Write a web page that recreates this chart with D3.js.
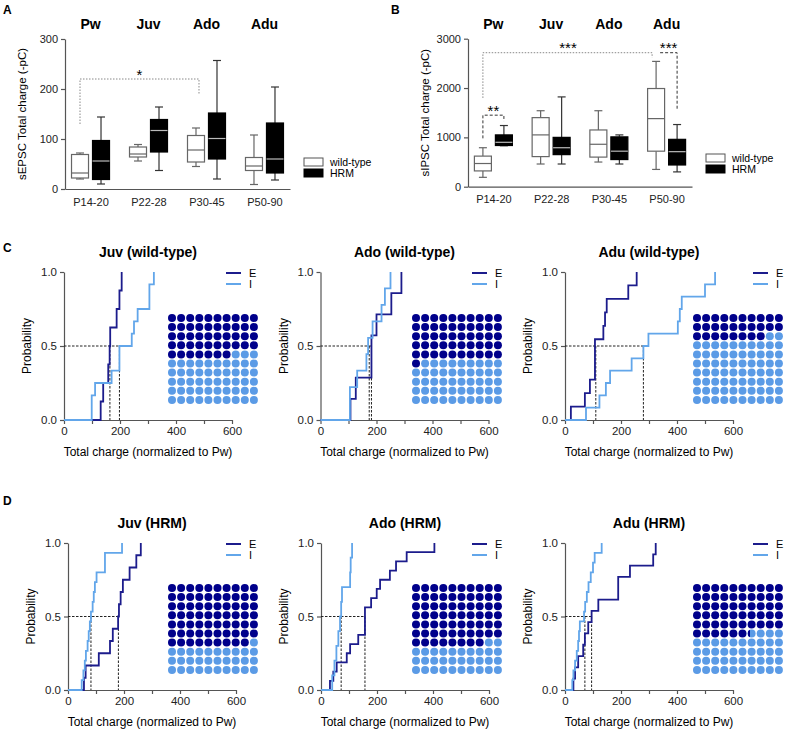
<!DOCTYPE html>
<html><head><meta charset="utf-8">
<script src="https://cdn.jsdelivr.net/npm/d3@7"></script>
<style>body{margin:0;background:#fff} svg{display:block;font-family:"Liberation Sans",Arial,sans-serif}</style>
</head><body><svg id="c" width="787" height="730"></svg>
<script>
// ---------- DATA ----------
const groups = ["P14-20","P22-28","P30-45","P50-90"];
const stages = ["Pw","Juv","Ado","Adu"];
// five-number summaries [min, q1, median, q3, max]
const epscWT  = [[20,22,32,69,72],[56,64,70,84,89],[45,54,78,107,122],[9,37,46,63,108]];
const epscHRM = [[10,19,56,97,144],[37,74,117,139,164],[20,60,101,152,257],[18,32,60,132,204]];
const ipscWT  = [[190,320,470,620,790],[460,610,1050,1400,1540],[500,600,860,1150,1540],[350,720,1380,1990,2540]];
const ipscHRM = [[830,835,900,1050,1240],[460,650,790,1000,1820],[460,550,720,1010,1050],[300,440,710,960,1260]];
const epscTicks = [0,100,200,300];
const ipscTicks = [0,1000,2000,3000];
const legendLabels = ["wild-type","HRM"];

// cumulative distributions (sorted values, normalized to Pw)
const juvWT_E = [131,140,158,163,165,188,198,206];
const juvWT_I = [99,99,111,170,198,198,242,250,263,305,305,321];
const adoWT_E = [107,126,182,182,200,253,289];
const adoWT_I = [105,105,131,164,170,186,218,230,250];
const aduWT_E = [21,71,89,107,107,107,137,143,149,226,256];
const aduWT_I = [75,123,146,161,238,280,298,403,410,417,500,536];
const juvHRM_E = [57,63,110,150,160,179,182,188,196,220,244,260];
const juvHRM_I = [49,55,60,64,70,74,78,82,88,92,96,102,132,132,193];
const adoHRM_E = [32,44,56,92,104,133,157,157,157,179,199,211,246,268,306,405];
const adoHRM_I = [40,48,55,62,68,72,75,104,106,111];
const aduHRM_E = [30,36,47,65,71,83,95,119,190,190,232,315,324];
const aduHRM_I = [26,30,36,42,47,50,53,68,72,78,84,92,100,106,131];
// medians (E, I)
const medWT  = [[164,198],[182,174],[110,280]];
const medHRM = [[180,82],[157,72],[95,71]];
// waffle: percentage of E (dark dots)
const waffleWT  = [47,51,28];
const waffleHRM = [69,68,56.3];
const cdfTitlesWT  = ["Juv (wild-type)","Ado (wild-type)","Adu (wild-type)"];
const cdfTitlesHRM = ["Juv (HRM)","Ado (HRM)","Adu (HRM)"];
const xTicksCdf = [0,100,200,300,400,500,600];
const yTicksCdf = [0,0.5,1];

// ---------- DRAW ----------
const svg = d3.select("#c");
const AX = "#555";
const colE = "#1c1c8c", colI = "#62a6ea", dotE = "#00008b", dotI = "#5b9be6";

function styleAxis(g){
  g.selectAll(".domain").attr("stroke",AX).attr("stroke-width",1.2);
  g.selectAll(".tick line").attr("stroke",AX).attr("stroke-width",1.2);
  g.selectAll(".tick text").attr("fill","#222").style("font-family","Liberation Sans, Arial").style("font-size","11px");
}

function letter(t,x,y){
  svg.append("text").attr("x",x).attr("y",y).text(t).attr("font-weight","bold").attr("font-size",12);
}

function boxPanel(o){
  const g = svg.append("g");
  const y = d3.scaleLinear().domain([0,o.max]).range([o.yBot,o.yTop]);
  const x = d3.scalePoint().domain(groups).range([o.x0,o.x1]).padding(0.44);
  const ya = g.append("g").attr("transform",`translate(${o.x0},0)`)
    .call(d3.axisLeft(y).tickValues(o.ticks).tickFormat(d3.format("d")).tickSize(4).tickSizeOuter(0).tickPadding(3));
  styleAxis(ya);
  const xa = g.append("g").attr("transform",`translate(0,${o.yBot})`)
    .call(d3.axisBottom(x).tickSize(0).tickSizeOuter(0).tickPadding(9));
  styleAxis(xa);
  g.append("text").attr("transform",`translate(${o.ylabX},${(o.yTop+o.yBot)/2}) rotate(-90)`)
    .attr("text-anchor","middle").attr("dominant-baseline","middle").attr("font-size",11.5).text(o.ylabel);
  stages.forEach((s,i)=>{
    g.append("text").attr("x",x(groups[i])).attr("y",29).attr("text-anchor","middle")
      .attr("font-weight","bold").attr("font-size",14).text(s);
  });
  const bw=17, off=10.5, cap=4;
  [[o.wt,-off,"#fff","#666","#666"],[o.hrm,off,"#000","#000","#bbb"]].forEach(([data,dx,fill,stroke,med])=>{
    data.forEach((d,i)=>{
      const cx = x(groups[i])+dx;
      const wc = stroke==="#000" ? "#333" : "#666";
      g.append("line").attr("x1",cx).attr("x2",cx).attr("y1",y(d[0])).attr("y2",y(d[1])).attr("stroke",wc).attr("stroke-width",1.2);
      g.append("line").attr("x1",cx).attr("x2",cx).attr("y1",y(d[3])).attr("y2",y(d[4])).attr("stroke",wc).attr("stroke-width",1.2);
      [d[0],d[4]].forEach(v=>g.append("line").attr("x1",cx-cap).attr("x2",cx+cap).attr("y1",y(v)).attr("y2",y(v)).attr("stroke",wc).attr("stroke-width",1.2));
      g.append("rect").attr("x",cx-bw/2).attr("y",y(d[3])).attr("width",bw).attr("height",y(d[1])-y(d[3]))
        .attr("fill",fill).attr("stroke",stroke).attr("stroke-width",1.2);
      g.append("line").attr("x1",cx-bw/2).attr("x2",cx+bw/2).attr("y1",y(d[2])).attr("y2",y(d[2])).attr("stroke",med).attr("stroke-width",1.2);
    });
  });
  // legend
  legendLabels.forEach((l,i)=>{
    g.append("rect").attr("x",o.legX).attr("y",o.legY+i*11).attr("width",19).attr("height",8)
      .attr("fill",i?"#000":"#fff").attr("stroke",i?"#000":"#555").attr("stroke-width",1);
    g.append("text").attr("x",o.legX+26).attr("y",o.legY+i*11+8).attr("font-size",10.5).text(l);
  });
  return {g,x,y,off};
}

// Panel A
letter("A",3,14);
const A = boxPanel({x0:65,x1:290,yTop:39,yBot:189,max:300,ticks:epscTicks,wt:epscWT,hrm:epscHRM,
  ylabel:"sEPSC Total charge (-pC)",ylabX:23,legX:304,legY:158});
{
  const {g,x,y,off}=A;
  const xl = x(groups[0])-off, xr = x(groups[2])-off+3;
  g.append("path").attr("d",`M${xl},${y(130)}V${y(220)}H${xr}V${y(188)}`)
    .attr("fill","none").attr("stroke","#888").attr("stroke-width",1).attr("stroke-dasharray","1.5,1.5");
  g.append("text").attr("x",(xl+xr)/2).attr("y",80).attr("text-anchor","middle").attr("font-size",15).text("*");
}

// Panel B
letter("B",391,14);
const B = boxPanel({x0:468,x1:692,yTop:38.7,yBot:186.7,max:3000,ticks:ipscTicks,wt:ipscWT,hrm:ipscHRM,
  ylabel:"sIPSC Total charge (-pC)",ylabX:426,legX:706,legY:154});
{
  const {g,x,y,off}=B;
  const w0 = x(groups[0])-off, h0 = x(groups[0])+off;
  const w3 = x(groups[3])-off, h3 = x(groups[3])+off;
  g.append("path").attr("d",`M${w0},${y(1800)}V${y(2716)}H${w3-4}V${y(2620)}`)
    .attr("fill","none").attr("stroke","#888").attr("stroke-width",1).attr("stroke-dasharray","1.5,1.5");
  g.append("path").attr("d",`M${w3+4},${y(2716)}H${h3}V${y(1560)}`)
    .attr("fill","none").attr("stroke","#333").attr("stroke-width",1).attr("stroke-dasharray","3,2");
  g.append("path").attr("d",`M${w0},${y(980)}V${y(1450)}H${h0}V${y(1330)}`)
    .attr("fill","none").attr("stroke","#333").attr("stroke-width",1).attr("stroke-dasharray","3,2");
  g.append("text").attr("x",568).attr("y",53).attr("text-anchor","middle").attr("font-size",15).text("***");
  g.append("text").attr("x",(w3+4+h3)/2).attr("y",53).attr("text-anchor","middle").attr("font-size",15).text("***");
  g.append("text").attr("x",(w0+h0)/2).attr("y",116).attr("text-anchor","middle").attr("font-size",15).text("**");
}

// CDF panels
function cdfPanel(o){
  const g = svg.append("g");
  const x = d3.scaleLinear().domain([0,600]).range([o.x0,o.x0+168]);
  const y = d3.scaleLinear().domain([0,1]).range([o.yBot,o.yTop]);
  const ya = g.append("g").attr("transform",`translate(${o.x0},0)`)
    .call(d3.axisLeft(y).tickValues(yTicksCdf).tickFormat(d3.format(".1f")).tickSize(4).tickSizeOuter(0).tickPadding(3));
  styleAxis(ya);
  const xa = g.append("g").attr("transform",`translate(0,${o.yBot})`)
    .call(d3.axisBottom(x).tickValues(xTicksCdf).tickFormat(d=>d%200===0?d:"").tickSize(4).tickSizeOuter(0).tickPadding(3));
  styleAxis(xa);
  xa.selectAll(".tick text").style("font-size","11.5px");
  ya.selectAll(".tick text").style("font-size","11.5px");
  g.append("text").attr("x",o.x0+84).attr("y",o.yTop-15).attr("text-anchor","middle")
    .attr("font-weight","bold").attr("font-size",14).text(o.title);
  g.append("text").attr("transform",`translate(${o.x0-36},${(o.yTop+o.yBot)/2}) rotate(-90)`)
    .attr("text-anchor","middle").attr("dominant-baseline","middle").attr("font-size",12).text("Probability");
  g.append("text").attr("x",o.x0+84).attr("y",o.yBot+36).attr("text-anchor","middle").attr("font-size",12)
    .text("Total charge (normalized to Pw)");
  // medians
  const mx = Math.max(o.med[0],o.med[1]);
  g.append("line").attr("x1",o.x0).attr("x2",x(mx)).attr("y1",y(0.5)).attr("y2",y(0.5))
    .attr("stroke","#222").attr("stroke-width",1).attr("stroke-dasharray","2.5,1.5");
  o.med.forEach(m=>g.append("line").attr("x1",x(m)).attr("x2",x(m)).attr("y1",y(0.5)).attr("y2",y(0))
    .attr("stroke","#222").attr("stroke-width",1).attr("stroke-dasharray","2.5,1.5"));
  // ecdf
  const line = d3.line().x(d=>x(d[0])).y(d=>y(d[1])).curve(d3.curveStepAfter);
  [[o.E,colE],[o.I,colI]].forEach(([vals,c])=>{
    const n = vals.length;
    const pts = [[0,0]].concat(vals.map((v,i)=>[v,(i+1)/n]));
    g.append("path").attr("d",line(pts)).attr("fill","none").attr("stroke",c).attr("stroke-width",1.8);
  });
  // legend
  [["E",colE],["I",colI]].forEach(([t,c],i)=>{
    const yy = o.yTop+1+i*11;
    g.append("line").attr("x1",o.legX).attr("x2",o.legX+15).attr("y1",yy).attr("y2",yy).attr("stroke",c).attr("stroke-width",2);
    g.append("text").attr("x",o.legX+23).attr("y",yy+4).attr("font-size",11).text(t);
  });
  // waffle
  const sp = 9.1, r = 4;
  for(let k=0;k<100;k++){
    const cx = o.wx + (k%10)*sp, cy = o.wy + Math.floor(k/10)*sp;
    const frac = Math.max(0,Math.min(1,o.pct-k));
    g.append("circle").attr("cx",cx).attr("cy",cy).attr("r",r).attr("fill", frac>=1?dotE:dotI);
    if(frac>0 && frac<1){
      const id = "clip"+o.id+k;
      g.append("clipPath").attr("id",id).append("rect").attr("x",cx-r).attr("y",cy-r).attr("width",2*r*frac).attr("height",2*r);
      g.append("circle").attr("cx",cx).attr("cy",cy).attr("r",r).attr("fill",dotE).attr("clip-path",`url(#${id})`);
    }
  }
}

letter("C",3,252);
letter("D",3,505);
const colsC = [64,320.5,565], colsD = [68,321,565];
const wX = [172,416,697], legXs = [226,472,753];
const wtE=[juvWT_E,adoWT_E,aduWT_E], wtI=[juvWT_I,adoWT_I,aduWT_I];
const hrE=[juvHRM_E,adoHRM_E,aduHRM_E], hrI=[juvHRM_I,adoHRM_I,aduHRM_I];
for(let i=0;i<3;i++){
  cdfPanel({id:"c"+i,x0:colsC[i],yTop:272,yBot:420,title:cdfTitlesWT[i],E:wtE[i],I:wtI[i],med:medWT[i],
    pct:waffleWT[i],wx:wX[i],wy:318,legX:legXs[i]});
  cdfPanel({id:"d"+i,x0:colsD[i],yTop:543,yBot:690,title:cdfTitlesHRM[i],E:hrE[i],I:hrI[i],med:medHRM[i],
    pct:waffleHRM[i],wx:wX[i],wy:588,legX:legXs[i]});
}
</script></body></html>
